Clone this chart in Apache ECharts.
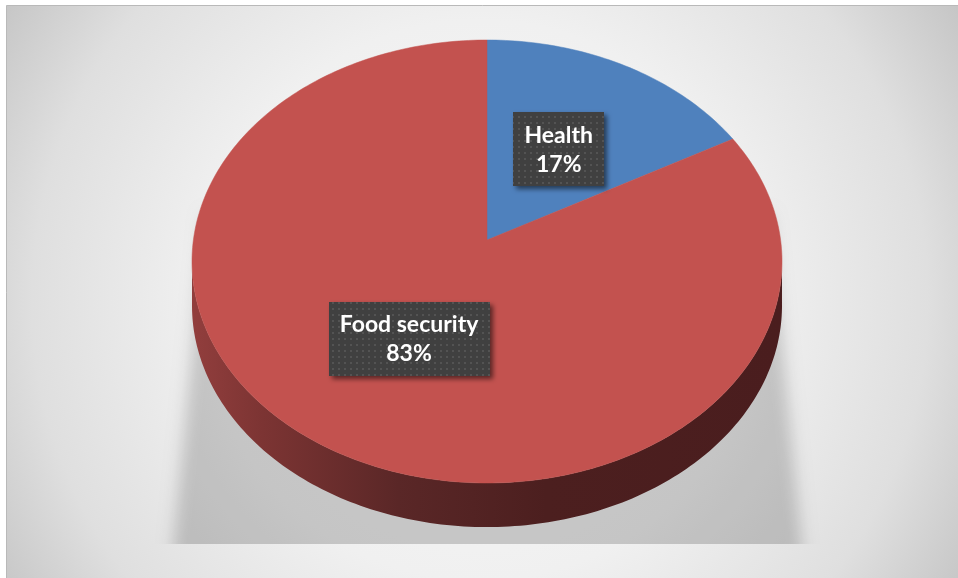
<!DOCTYPE html>
<html>
<head>
<meta charset="utf-8">
<script src="https://cdn.jsdelivr.net/npm/echarts@6/dist/echarts.min.js"></script>
<style>
  html, body { margin: 0; padding: 0; background: #ffffff; }
  #chart { width: 958px; height: 578px; }
</style>
</head>
<body>
<div id="chart"></div>
<script>
// ---- Data ----
const categories = ['Health', 'Food security'];
const values = [17, 83];

// ---- Geometry / style (not data) ----
const colorsTop = ['#4f81bd', '#c3524f'];
const T0 = -0.097;            // image of pie centre (perspective offset)
const DEPTH = 0.199;          // side thickness in axis units
const LABEL_R = 0.5;
const FONT = 'bold 23px Lato';

const total = values.reduce((a, b) => a + b, 0);
const slices = [];
let acc = 0;
values.forEach((v, i) => {
  const a0 = acc / total * Math.PI * 2;
  acc += v;
  const a1 = acc / total * Math.PI * 2;
  slices.push([i, a0, a1, v]);
});

function proj(theta, r) {
  const s = r * Math.sin(theta);
  const t = -r * Math.cos(theta);
  const d = 1 + T0 * t;
  return [s * Math.sqrt(1 - T0 * T0) / d, (t + T0) / d];
}

function arcPoints(a0, a1) {
  const n = Math.max(8, Math.ceil((a1 - a0) / (Math.PI / 180)));
  const pts = [];
  for (let k = 0; k <= n; k++) pts.push(proj(a0 + (a1 - a0) * k / n, 1));
  return pts;
}

// dotted label background pattern
const pat = document.createElement('canvas');
pat.width = 6; pat.height = 6;
(function () {
  const c = pat.getContext('2d');
  c.fillStyle = '#404040'; c.fillRect(0, 0, 6, 6);
  c.fillStyle = '#535353'; c.fillRect(2, 2, 2, 2);
})();
const measureCtx = document.createElement('canvas').getContext('2d');
measureCtx.font = FONT;

const chart = echarts.init(document.getElementById('chart'), null, { renderer: 'canvas' });

const bgGrad = new echarts.graphic.RadialGradient(480, 300, 560, [
  { offset: 0, color: '#f9f9f9' },
  { offset: 0.5, color: '#f0f0f0' },
  { offset: 0.8, color: '#dfdfdf' },
  { offset: 1, color: '#c6c6c6' }
], true);

const OFF = 3000;
const option = {
  animation: false,
  grid: { left: 192, top: 40, width: 590, height: 443 },
  xAxis: { type: 'value', min: -1, max: 1, show: false },
  yAxis: { type: 'value', min: -1, max: 1, inverse: true, show: false },
  graphic: [
    { type: 'rect', z: -10, shape: { x: 6.5, y: 5.5, width: 1000, height: 1000 },
      style: { fill: bgGrad, stroke: '#b9b9b9', lineWidth: 1 } },
    { type: 'polygon', z: -9,
      shape: { points: [[205 + OFF, 215], [770 + OFF, 215], [803 + OFF, 560], [172 + OFF, 560]] },
      style: { fill: '#000', shadowColor: 'rgba(0,0,0,0.18)', shadowBlur: 16, shadowOffsetX: -OFF } },
    { type: 'rect', z: -8, shape: { x: 7, y: 544, width: 1000, height: 100 },
      style: { fill: bgGrad } }
  ],
  series: [
    {
      type: 'custom', name: 'side', clip: false, z: 2, silent: true,
      data: slices,
      renderItem: function (params, api) {
        const a0 = api.value(1), a1 = api.value(2);
        const pts = arcPoints(a0, a1).filter(p => p[1] >= 0);
        if (pts.length < 2) return null;
        const top = pts.map(p => api.coord(p));
        const bot = pts.slice().reverse().map(p => api.coord([p[0], p[1] + DEPTH]));
        return {
          type: 'polygon',
          shape: { points: top.concat(bot) },
          style: {
            fill: new echarts.graphic.LinearGradient(0, 0, 1, 0, [
              { offset: 0, color: '#923e3d' },
              { offset: 0.12, color: '#7c3433' },
              { offset: 0.35, color: '#5a2727' },
              { offset: 0.6, color: '#4c1f1f' },
              { offset: 1, color: '#4a1d1e' }
            ]),
            stroke: null
          }
        };
      }
    },
    {
      type: 'custom', name: 'top', clip: false, z: 3,
      data: slices,
      renderItem: function (params, api) {
        const i = api.value(0), a0 = api.value(1), a1 = api.value(2);
        const pts = [api.coord(proj(0, 0))].concat(arcPoints(a0, a1).map(p => api.coord(p)));
        return {
          type: 'polygon',
          shape: { points: pts },
          style: { fill: colorsTop[i], stroke: colorsTop[i], lineWidth: 0.5 }
        };
      }
    },
    {
      type: 'custom', name: 'labels', clip: false, z: 4, silent: true,
      data: slices,
      renderItem: function (params, api) {
        const i = api.value(0), a0 = api.value(1), a1 = api.value(2), v = api.value(3);
        const c = api.coord(proj((a0 + a1) / 2, LABEL_R));
        const pct = Math.round(v / total * 100) + '%';
        const w = Math.max(measureCtx.measureText(categories[i]).width,
                           measureCtx.measureText(pct).width) + 22;
        const h = 74;
        return {
          type: 'group',
          children: [
            { type: 'rect',
              shape: { x: Math.round(c[0] - w / 2), y: Math.round(c[1] - h / 2), width: Math.round(w), height: h },
              style: { fill: { image: pat, repeat: 'repeat' },
                       shadowColor: 'rgba(0,0,0,0.55)', shadowBlur: 5, shadowOffsetX: 3, shadowOffsetY: 3 } },
            { type: 'text', x: c[0], y: c[1] + 1,
              style: { text: categories[i] + '\n' + pct, font: FONT, fill: '#ffffff',
                       align: 'center', verticalAlign: 'middle', lineHeight: 29 } }
          ]
        };
      }
    }
  ]
};
chart.setOption(option);
</script>
</body>
</html>
